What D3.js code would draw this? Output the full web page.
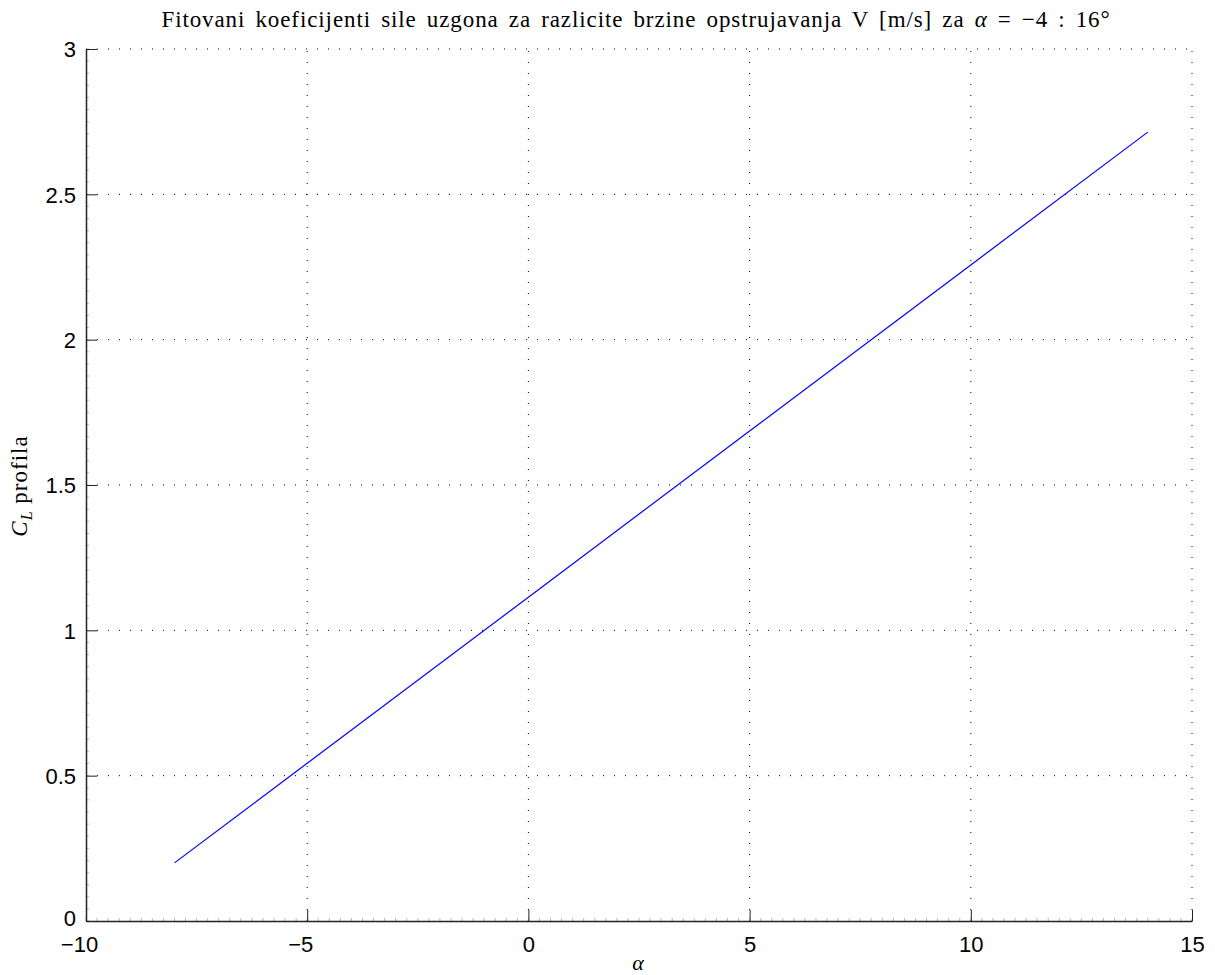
<!DOCTYPE html>
<html><head><meta charset="utf-8">
<script src="https://cdn.jsdelivr.net/npm/d3@7"></script>
<style>body{margin:0;background:#fff}</style>
</head><body>
<svg id="c" width="1215" height="975"></svg>
<script>
const alphaVals = [-8, -5, 0, 5, 10, 14];
const clVals = [0.2, 0.543, 1.114, 1.686, 2.257, 2.714];
const xTicks = [-10, -5, 0, 5, 10, 15];
const yTicks = [0, 0.5, 1, 1.5, 2, 2.5, 3];
const xTickLabels = ["\u221210", "\u22125", "0", "5", "10", "15"];
const yTickLabels = ["0", "0.5", "1", "1.5", "2", "2.5", "3"];

const svg = d3.select("#c");
const L = 86, R = 1192, T = 49, B = 921;
const x = d3.scaleLinear().domain([-10, 15]).range([L, R]);
const y = d3.scaleLinear().domain([0, 3]).range([B, T]);

// grid
const g = svg.append("g");
xTicks.slice(1).forEach(t => g.append("line").attr("x1", x(t)).attr("x2", x(t)).attr("y1", B).attr("y2", T)
  .attr("stroke", "#000").attr("stroke-width", 1).attr("stroke-dasharray", "1,10"));
yTicks.slice(1).forEach(t => g.append("line").attr("y1", y(t)).attr("y2", y(t)).attr("x1", L).attr("x2", R)
  .attr("stroke", "#000").attr("stroke-width", 1).attr("stroke-dasharray", "1,10"));

// minor ticks
const xMinor = d3.range(-10, 15.001, 0.25);
xMinor.forEach(t => svg.append("line").attr("x1", x(t)).attr("x2", x(t)).attr("y1", B).attr("y2", B - 3)
  .attr("stroke", "#bbb").attr("stroke-width", 1));
const yMinor = d3.range(0, 3.0001, 0.5 / 12);
yMinor.forEach(t => svg.append("line").attr("y1", y(t)).attr("y2", y(t)).attr("x1", L).attr("x2", L + 3)
  .attr("stroke", "#bbb").attr("stroke-width", 1));

// axes
const xAxis = d3.axisBottom(x).tickValues(xTicks).tickSizeInner(-11).tickSizeOuter(0)
  .tickFormat((d, i) => xTickLabels[i]).tickPadding(15);
const yAxis = d3.axisLeft(y).tickValues(yTicks).tickSizeInner(-11).tickSizeOuter(0)
  .tickFormat((d, i) => yTickLabels[i]).tickPadding(10);
const gx = svg.append("g").attr("transform", `translate(0,${B})`).call(xAxis);
const gy = svg.append("g").attr("transform", `translate(${L},0)`).call(yAxis);
[gx, gy].forEach(a => {
  a.select(".domain").attr("stroke", "#222").attr("stroke-width", 1.5);
  a.selectAll(".tick line").attr("stroke", "#222").attr("stroke-width", 1);
  a.selectAll(".tick text").attr("font-family", "Liberation Sans, Arial, sans-serif").attr("font-size", 22).attr("fill", "#000");
});
gx.selectAll(".tick text").attr("dy", "0.71em").attr("dx", d => d < 0 ? -7 : 0);
gy.selectAll(".tick text").attr("dy", d => d === 0 ? "0.2em" : "0.35em");

// line
const line = d3.line().x((d, i) => x(alphaVals[i])).y(d => y(d));
svg.append("path").attr("d", line(clVals)).attr("fill", "none").attr("stroke", "#0000ff").attr("stroke-width", 1.2);

// title & labels
const serif = "Liberation Serif, DejaVu Serif, serif";
const title = svg.append("text").attr("x", 636).attr("y", 27).attr("text-anchor", "middle")
  .attr("font-family", serif).attr("font-size", 23).attr("letter-spacing", 0.9).attr("word-spacing", 3.5);
title.append("tspan").text("Fitovani koeficijenti sile uzgona za razlicite brzine opstrujavanja V [m/s] za ");
title.append("tspan").attr("font-style", "italic").text("\u03b1");
title.append("tspan").text(" = \u22124 : 16\u00b0");

svg.append("text").attr("x", 638).attr("y", 970).attr("text-anchor", "middle")
  .attr("font-family", serif).attr("font-style", "italic").attr("font-size", 22).text("\u03b1");

const yl = svg.append("text").attr("transform", "translate(27,486) rotate(-90)").attr("text-anchor", "middle")
  .attr("font-family", serif).attr("font-size", 23).attr("letter-spacing", 1);
yl.append("tspan").attr("font-style", "italic").text("C");
yl.append("tspan").attr("font-style", "italic").attr("font-size", 16).attr("dy", 5).text("L");
yl.append("tspan").attr("dy", -5).text(" profila");
</script>
</body></html>
